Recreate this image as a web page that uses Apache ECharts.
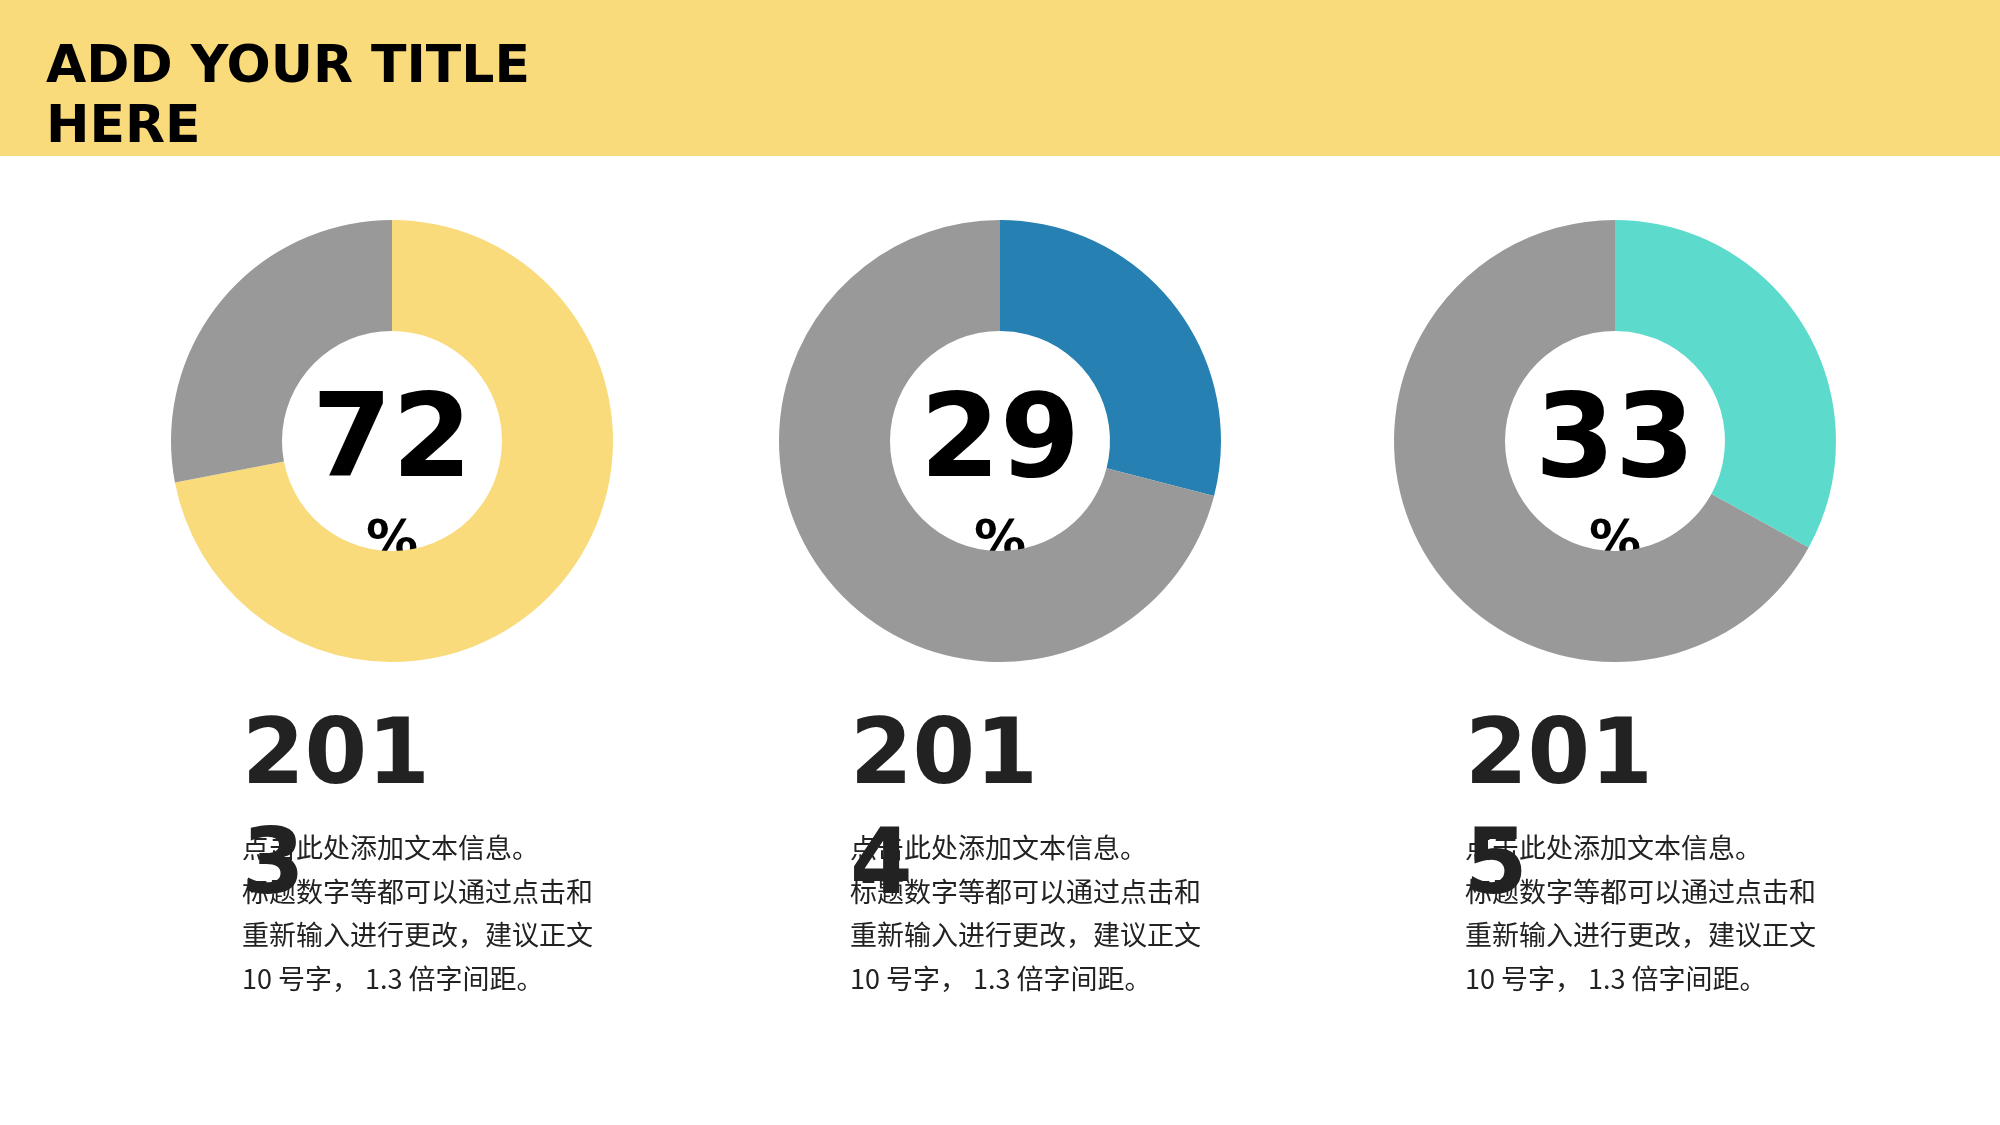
<!DOCTYPE html>
<html>
<head>
<meta charset="utf-8">
<style>html,body{margin:0;padding:0;background:#fff}#chart{width:2000px;height:1125px}</style>
<script src="https://cdn.jsdelivr.net/npm/echarts@6/dist/echarts.min.js"></script>
</head>
<body>
<div id="chart"></div>
<script>
var percents = [72, 29, 33];
var years = ['2013', '2014', '2015'];
var colors = ['#F9DB7B', '#2681B2', '#5CDBCD'];
var bodyText = '点击此处添加文本信息。\n标题数字等都可以通过点击和\n重新输入进行更改，建议正文\n10 号字， 1.3 倍字间距。';
var centersX = [392, 1000, 1615];

var chart = echarts.init(document.getElementById('chart'));

var series = percents.map(function (p, i) {
    return {
        type: 'pie',
        center: [centersX[i], 441],
        radius: [110, 221],
        startAngle: 90,
        clockwise: true,
        silent: true,
        label: { show: false },
        labelLine: { show: false },
        itemStyle: { borderWidth: 0 },
        data: [
            { value: p, itemStyle: { color: colors[i] } },
            { value: 100 - p, itemStyle: { color: '#999999' } }
        ]
    };
});

var graphic = [
    { type: 'rect', shape: { x: 0, y: 0, width: 2000, height: 156 }, style: { fill: '#F9DB7B' } },
    { type: 'text', left: 46, top: 38, style: { text: 'ADD YOUR TITLE\nHERE', font: 'bold 52px "DejaVu Sans"', lineHeight: 60, fill: '#000' } }
];
percents.forEach(function (p, i) {
    var cx = centersX[i];
    graphic.push({ type: 'text', x: cx, y: 446, style: { text: String(p), font: 'bold 115px "DejaVu Sans"', fill: '#000', align: 'center', verticalAlign: 'middle' } });
    graphic.push({ type: 'text', x: cx, y: 543, style: { text: '%', font: 'bold 52px "DejaVu Sans"', fill: '#000', align: 'center', verticalAlign: 'middle' } });
    var tx = cx - 150;
    graphic.push({ type: 'text', x: tx, y: 705, style: { text: years[i].slice(0, 3) + '\n' + years[i].slice(3), font: 'bold 90px "DejaVu Sans"', lineHeight: 110, fill: '#222' } });
    graphic.push({ type: 'text', x: tx, y: 826, style: { text: bodyText, font: '27px "Noto Sans CJK SC"', lineHeight: 43.5, fill: '#222' } });
});

chart.setOption({
    animation: false,
    series: series,
    graphic: graphic
});
</script>
</body>
</html>
